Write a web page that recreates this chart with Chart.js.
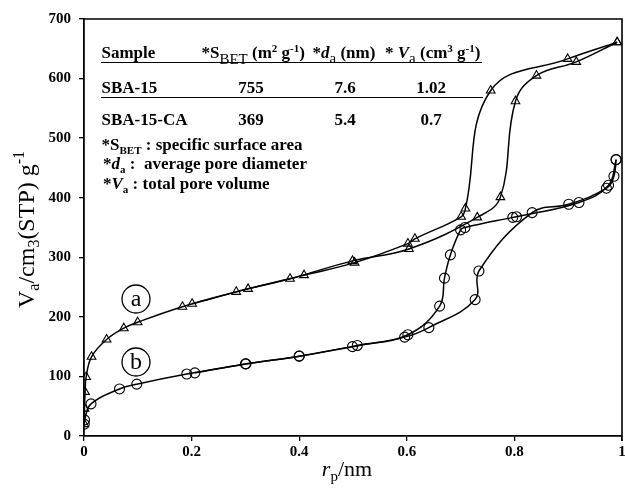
<!DOCTYPE html>
<html>
<head>
<meta charset="utf-8">
<script src="https://cdn.jsdelivr.net/npm/chart.js@4/dist/chart.umd.min.js"></script>
<style>
html,body{margin:0;padding:0;background:#fff;}
#wrap{width:625px;height:495px;position:relative;}
</style>
</head>
<body>
<div id="wrap"><canvas id="c" width="625" height="495"></canvas></div>
<script>
// ---- data ----
const aAdsX = [0.0005, 0.001, 0.002, 0.004, 0.014, 0.042, 0.074, 0.0997, 0.183, 0.283, 0.383, 0.499, 0.604, 0.731, 0.774, 0.802, 0.841, 0.915, 0.991];
const aAdsY = [20, 46, 74, 99, 133, 162, 181, 191, 217, 242, 264, 294, 314, 367, 401, 562, 605, 628, 661];
const aDesX = [0.991, 0.899, 0.756, 0.709, 0.701, 0.615, 0.602, 0.503, 0.409, 0.305, 0.201];
const aDesY = [661, 633, 580, 382, 368, 331, 323, 291, 270, 247, 222];
const bAdsX = [0.0005, 0.001, 0.013, 0.066, 0.098, 0.191, 0.301, 0.40, 0.499, 0.596, 0.641, 0.727, 0.734, 0.833, 0.901, 0.971, 0.985, 0.989];
const bAdsY = [20, 27, 54, 79, 87, 104, 121, 134, 150, 166, 182, 229, 277, 375, 389, 416, 436, 464];
const bDesX = [0.989, 0.975, 0.92, 0.804, 0.797, 0.708, 0.70, 0.681, 0.670, 0.661, 0.602, 0.508, 0.40, 0.30, 0.206];
const bDesY = [464, 421, 392, 368, 367, 350, 346, 304, 265, 218, 170, 152, 134, 121, 106];
const xTickVals = [0, 0.2, 0.4, 0.6, 0.8, 1];
const xTickLabels = ['0', '0.2', '0.4', '0.6', '0.8', '1'];
const yTickLabels = ['0', '100', '200', '300', '400', '500', '600', '700'];
const tableRows = [
  ['SBA-15', '755', '7.6', '1.02'],
  ['SBA-15-CA', '369', '5.4', '0.7']
];

const pts = (xs, ys) => xs.map((x, i) => ({x: x, y: ys[i]}));
const FAM = '"Liberation Serif", "Times New Roman", serif';

function ds(xs, ys, style, r) {
  return {
    data: pts(xs, ys), showLine: true, borderColor: '#000', borderWidth: 1.5,
    tension: 0.4, pointStyle: style, pointRadius: r, pointHoverRadius: r,
    pointBorderColor: '#000', pointBorderWidth: 1.1, pointBackgroundColor: 'rgba(0,0,0,0)'
  };
}

function rich(ctx, x, y, segs, align) {
  let w = 0;
  segs.forEach(s => {
    ctx.font = (s.i ? 'italic ' : '') + (s.b ? 'bold ' : '') + s.s + 'px ' + FAM;
    s.w = ctx.measureText(s.t).width; w += s.w;
  });
  let cx = align === 'center' ? x - w / 2 : x;
  segs.forEach(s => {
    ctx.font = (s.i ? 'italic ' : '') + (s.b ? 'bold ' : '') + s.s + 'px ' + FAM;
    ctx.fillText(s.t, cx, y + (s.dy || 0)); cx += s.w;
  });
}

const deco = {
  id: 'deco',
  afterDraw(chart) {
    const ctx = chart.ctx, ca = chart.chartArea, xs = chart.scales.x;
    ctx.save();
    ctx.strokeStyle = '#000'; ctx.fillStyle = '#000';
    ctx.lineWidth = 1.6;
    ctx.beginPath();
    ctx.moveTo(ca.left, ca.top); ctx.lineTo(ca.right, ca.top);
    ctx.lineTo(ca.right, ca.bottom + 5);
    ctx.stroke();
    // x tick labels
    ctx.font = 'bold 15px ' + FAM; ctx.textAlign = 'center'; ctx.textBaseline = 'top';
    xTickVals.forEach((v, i) => ctx.fillText(xTickLabels[i], xs.getPixelForValue(v), ca.bottom + 9));
    ctx.textBaseline = 'alphabetic'; ctx.textAlign = 'left';
    const B = 17;
    rich(ctx, 101.5, 58, [{t: 'Sample', s: B, b: 1}]);
    rich(ctx, 201.5, 58, [{t: '*S', s: B, b: 1}, {t: 'BET', s: 15, dy: 6}, {t: ' (m', s: B, b: 1},
      {t: '2', s: 11, b: 1, dy: -6}, {t: ' g', s: B, b: 1}, {t: '-1', s: 11, b: 1, dy: -6}, {t: ')', s: B, b: 1}]);
    rich(ctx, 312.5, 58, [{t: '*', s: B, b: 1}, {t: 'd', s: B, b: 1, i: 1}, {t: 'a', s: 15, dy: 5}, {t: ' (nm)', s: B, b: 1}]);
    rich(ctx, 385, 58, [{t: '* ', s: B, b: 1}, {t: 'V', s: B, b: 1, i: 1}, {t: 'a', s: 15, dy: 5}, {t: ' (cm', s: B, b: 1},
      {t: '3', s: 11, b: 1, dy: -6}, {t: ' g', s: B, b: 1}, {t: '-1', s: 11, b: 1, dy: -6}, {t: ')', s: B, b: 1}]);
    ctx.lineWidth = 1;
    ctx.beginPath(); ctx.moveTo(101, 62.5); ctx.lineTo(482, 62.5); ctx.stroke();
    const rowY = [93, 125];
    const colX = [101.5, 251, 345, 431];
    tableRows.forEach((r, i) => {
      rich(ctx, colX[0], rowY[i], [{t: r[0], s: B, b: 1}]);
      for (let k = 1; k < 4; k++) rich(ctx, colX[k], rowY[i], [{t: r[k], s: B, b: 1}], 'center');
    });
    ctx.beginPath(); ctx.moveTo(101, 97.5); ctx.lineTo(483, 97.5); ctx.stroke();
    rich(ctx, 101.5, 149.5, [{t: '*S', s: B, b: 1}, {t: 'BET', s: 11, b: 1, dy: 4}, {t: ' : specific surface area', s: B, b: 1}]);
    rich(ctx, 103, 168.5, [{t: '*', s: B, b: 1}, {t: 'd', s: B, b: 1, i: 1}, {t: 'a', s: 11, b: 1, dy: 4}, {t: ' :  average pore diameter', s: B, b: 1}]);
    rich(ctx, 103, 188.5, [{t: '*', s: B, b: 1}, {t: 'V', s: B, b: 1, i: 1}, {t: 'a', s: 11, b: 1, dy: 4}, {t: ' : total pore volume', s: B, b: 1}]);
    [['a', 136, 299], ['b', 136, 362]].forEach(l => {
      ctx.lineWidth = 1.3;
      ctx.beginPath(); ctx.arc(l[1], l[2], 14, 0, Math.PI * 2); ctx.stroke();
      ctx.textAlign = 'center'; ctx.textBaseline = 'middle';
      ctx.font = '24px ' + FAM;
      ctx.fillText(l[0], l[1], l[2] + 1);
    });
    ctx.textAlign = 'left'; ctx.textBaseline = 'alphabetic';
    rich(ctx, 347, 476, [{t: 'r', s: 22, i: 1}, {t: 'p', s: 15, dy: 5}, {t: '/nm', s: 22}], 'center');
    ctx.save();
    ctx.translate(34, 229.5); ctx.rotate(-Math.PI / 2);
    rich(ctx, 0, 0, [{t: 'V', s: 24}, {t: 'a', s: 16, dy: 5}, {t: '/cm', s: 24}, {t: '3', s: 16, dy: 5},
      {t: '(STP) g', s: 24}, {t: '-1', s: 16, dy: -10}], 'center');
    ctx.restore();
    ctx.restore();
  }
};

new Chart(document.getElementById('c'), {
  type: 'scatter',
  data: {
    datasets: [
      ds(aAdsX, aAdsY, 'triangle', 5),
      ds(aDesX, aDesY, 'triangle', 5),
      ds(bAdsX, bAdsY, 'circle', 5),
      ds(bDesX, bDesY, 'circle', 5)
    ]
  },
  options: {
    responsive: false, animation: false,
    layout: {autoPadding: false, padding: {top: 19, right: 3, left: 0, bottom: 0}},
    plugins: {legend: {display: false}, tooltip: {enabled: false}},
    scales: {
      x: {
        type: 'linear', min: 0, max: 1,
        afterFit(s) { s.height = 59; },
        afterBuildTicks(s) { s.ticks = xTickVals.map(v => ({value: v})); },
        ticks: {display: false},
        grid: {display: true, drawOnChartArea: false, drawTicks: true, tickLength: 5, color: '#000', lineWidth: 1.3},
        border: {display: true, color: '#000', width: 1.8}
      },
      y: {
        type: 'linear', min: 0, max: 700,
        afterFit(s) { s.width = 84; },
        ticks: {stepSize: 100, color: '#000', font: {family: FAM, size: 15, weight: 'bold'}, padding: 8,
          callback: (v) => yTickLabels[Math.round(v / 100)]},
        grid: {display: true, drawOnChartArea: false, drawTicks: true, tickLength: 5, color: '#000', lineWidth: 1.3},
        border: {display: true, color: '#000', width: 1.8}
      }
    }
  },
  plugins: [deco]
});
</script>
</body>
</html>
